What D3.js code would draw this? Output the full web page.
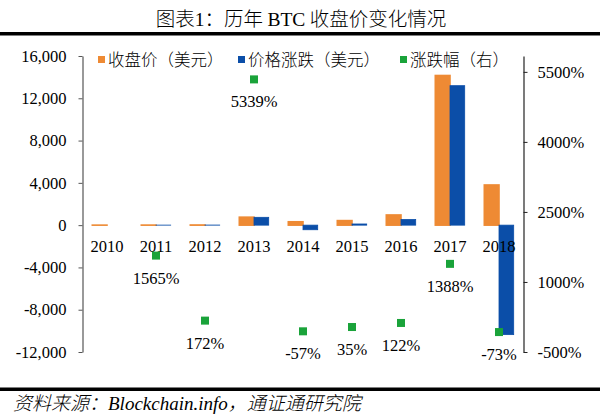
<!DOCTYPE html>
<html><head><meta charset="utf-8">
<script src="https://cdn.jsdelivr.net/npm/d3@7/dist/d3.min.js"></script>
<style>
body{margin:0;background:#fff}
svg{display:block}
text{font-family:"Liberation Serif","Noto Sans CJK SC",serif;fill:#000}
</style>
</head><body>
<svg id="chart" width="600" height="417"></svg>
<script>
// ---- data ----
const years = ["2010","2011","2012","2013","2014","2015","2016","2017","2018"];
const closePrice = [0.3, 4.7, 13.5, 754, 320, 430, 963, 14156, 3800];
const priceChange = [null, 4.4, 8.8, 740, -434, 110, 533, 13193, -10356];
const pctChange = [null, 1565, 172, 5339, -57, 35, 122, 1388, -73];
const leftTicks = [-12000, -8000, -4000, 0, 4000, 8000, 12000, 16000];
const rightTicks = [-500, 1000, 2500, 4000, 5500];
const seriesNames = ["收盘价（美元）", "价格涨跌（美元）", "涨跌幅（右）"];
const titleParts = ["图表", "1", "：历年 ", "BTC", " 收盘价变化情况"];
const sourceParts = ["资料来源：", "Blockchain.info", "，通证通研究院"];

const colors = ["#EE8A34", "#0B4EA8", "#1AA33A"];
const cjk = "'Noto Sans CJK SC',sans-serif";
const latin = "'Liberation Serif',serif";

const svg = d3.select("#chart");

// frame lines
svg.append("rect").attr("x",0).attr("y",32).attr("width",600).attr("height",3.5).attr("fill","#000");
svg.append("rect").attr("x",0).attr("y",387.5).attr("width",600).attr("height",3.5).attr("fill","#000");

const title = svg.append("text").attr("x",301).attr("y",26).attr("text-anchor","middle")
  .style("font-size","19.5px");
titleParts.forEach((p,i) => title.append("tspan").style("font-family", i % 2 ? latin : cjk)
  .style("font-weight", i % 2 ? 400 : 300).text(p));

const src = svg.append("text").attr("x",13).attr("y",410)
  .style("font-size","19px").style("font-style","italic");
sourceParts.forEach((p,i) => src.append("tspan").style("font-family", i % 2 ? latin : cjk)
  .style("font-weight", i % 2 ? 400 : 300).text(p));

// scales
const plotTop = 56, plotBottom = 352, plotLeft = 82.5, plotRight = 523.5;
const x = d3.scaleBand().domain(years).range([plotLeft, plotRight]).paddingInner(0.4).paddingOuter(0.2);
const x1 = d3.scaleBand().domain(["close","change"]).range([0, x.bandwidth()]);
const yL = d3.scaleLinear().domain([-12000, 16000]).range([plotBottom, plotTop]);
const yR = d3.scaleLinear().domain([-500, 5840]).range([plotBottom, plotTop]);

// axes
const fmtL = d => d3.format(",")(d).replace("\u2212","-");
const gL = svg.append("g").attr("transform",`translate(${plotLeft},0)`)
  .call(d3.axisLeft(yL).tickValues(leftTicks).tickSize(4).tickSizeOuter(0).tickPadding(12).tickFormat(fmtL));
gL.select(".domain").attr("stroke","#555").attr("stroke-width",1.2);
gL.selectAll(".tick line").attr("stroke","#555");
gL.selectAll(".tick text").style("font-size","16.5px").style("font-family",latin).attr("fill","#000");

const gR = svg.append("g").attr("transform",`translate(${plotRight},0)`)
  .call(d3.axisRight(yR).tickValues(rightTicks).tickSize(4).tickSizeOuter(0).tickPadding(10).tickFormat(d => d + "%"));
gR.select(".domain").attr("stroke","#222").attr("stroke-width",1.2);
gR.selectAll(".tick line").attr("stroke","#222");
gR.selectAll(".tick text").style("font-size","16.5px").style("font-family",latin).attr("fill","#000");

// bars
const rows = years.map((y,i) => ({year:y, close:closePrice[i], change:priceChange[i], pct:pctChange[i]}));
const g = svg.append("g");
g.selectAll("rect.close").data(rows).join("rect").attr("class","close")
  .attr("x", d => x(d.year) + x1("close"))
  .attr("width", x1.bandwidth())
  .attr("y", d => yL(Math.max(0, d.close)))
  .attr("height", d => Math.abs(yL(d.close) - yL(0)))
  .attr("fill", colors[0]).attr("stroke", colors[0]).attr("stroke-width", 1.6);
g.selectAll("rect.change").data(rows.filter(d => d.change != null)).join("rect").attr("class","change")
  .attr("x", d => x(d.year) + x1("change"))
  .attr("width", x1.bandwidth())
  .attr("y", d => yL(Math.max(0, d.change)))
  .attr("height", d => Math.abs(yL(d.change) - yL(0)))
  .attr("fill", colors[1]).attr("stroke", colors[1]).attr("stroke-width", 0.8);

// category labels
g.selectAll("text.cat").data(years).join("text").attr("class","cat")
  .attr("x", d => x(d) + x.bandwidth()/2).attr("y", yL(0) + 27)
  .attr("text-anchor","middle").style("font-size","16.5px").style("font-family",latin).text(d => d);

// markers + labels
const pts = rows.filter(d => d.pct != null);
const ms = 8;
g.selectAll("rect.pct").data(pts).join("rect").attr("class","pct")
  .attr("x", d => x(d.year) + x.bandwidth()/2 - ms/2)
  .attr("y", d => yR(d.pct) - ms/2)
  .attr("width", ms).attr("height", ms).attr("fill", colors[2]);
g.selectAll("text.pct").data(pts).join("text").attr("class","pct")
  .attr("x", d => x(d.year) + x.bandwidth()/2)
  .attr("y", d => yR(d.pct) + 28)
  .attr("text-anchor","middle").style("font-size","16.5px").style("font-family",latin).text(d => d.pct + "%");

// legend
const legX = [98, 238, 400];
const leg = svg.append("g");
seriesNames.forEach((n,i) => {
  leg.append("rect").attr("x", legX[i]).attr("y", 56).attr("width", 7).attr("height", 7).attr("fill", colors[i]);
  leg.append("text").attr("x", legX[i] + 10).attr("y", 66).style("font-size","16.5px")
    .style("font-family",cjk).style("font-weight",300).text(n);
});
</script>
</body></html>
